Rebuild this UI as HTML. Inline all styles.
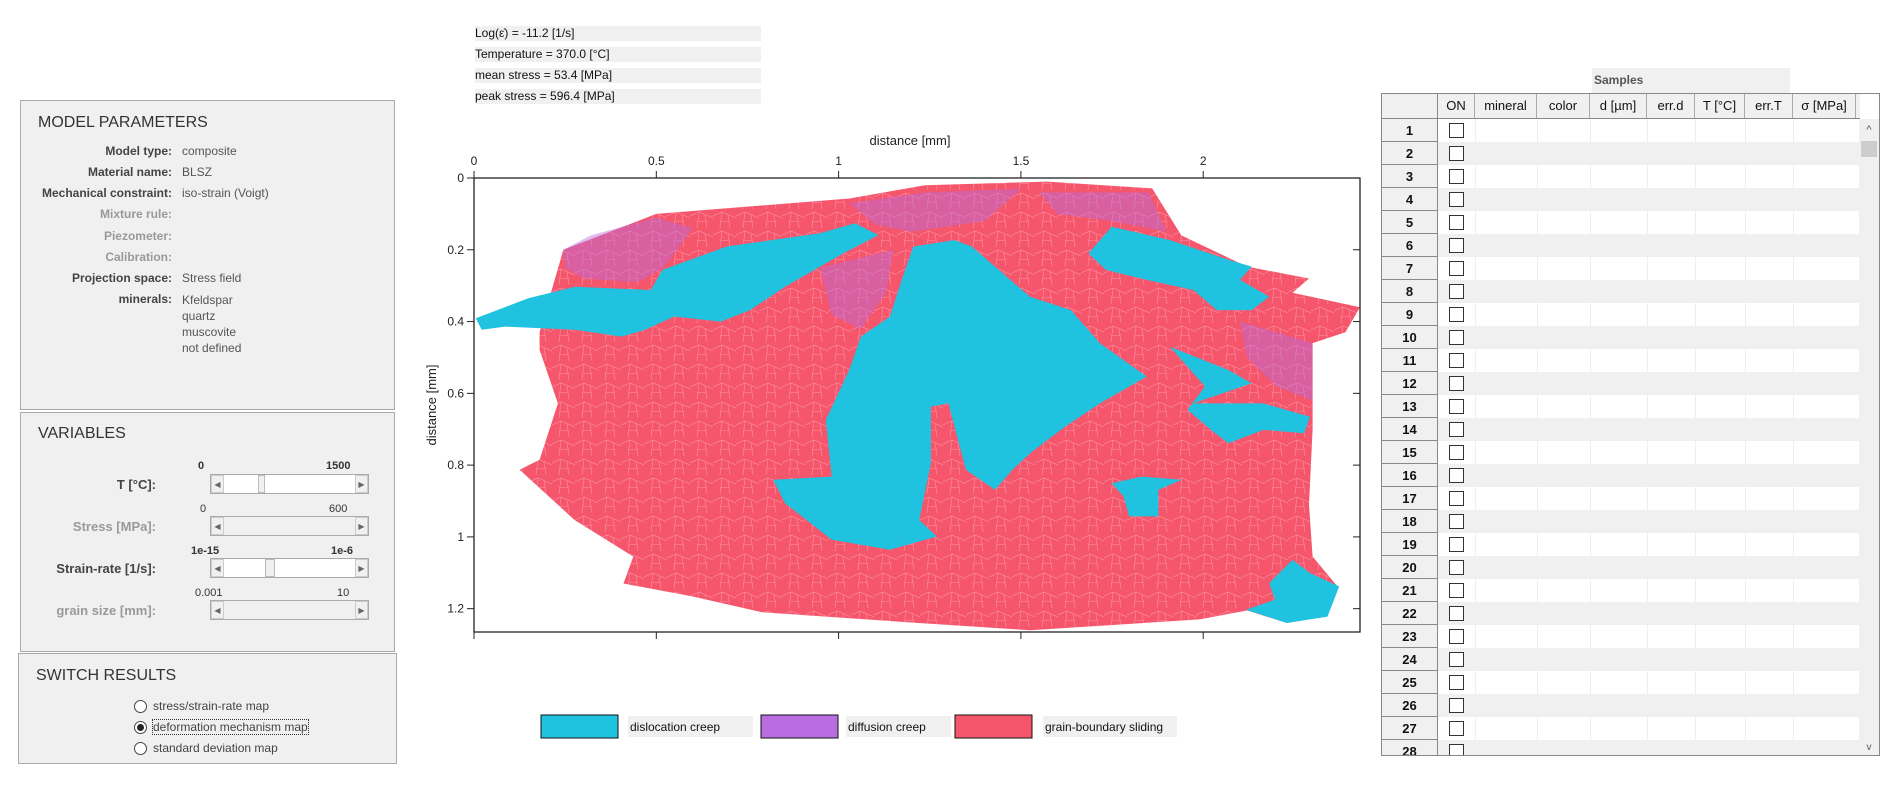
<!DOCTYPE html>
<html><head><meta charset="utf-8">
<style>
body{margin:0;width:1896px;height:810px;background:#fff;font-family:"Liberation Sans",sans-serif;position:relative;overflow:hidden;color:#333}
.abs{position:absolute}
.info{position:absolute;left:475px;width:286px;height:15px;background:#f0f0f0;font-size:12px;line-height:15px;color:#111;transform-origin:left;}
.panel{position:absolute;background:#f0f0f0;border:1px solid #aaa;box-sizing:border-box}
.ph{position:absolute;left:17px;font-size:16px;color:#333}
.lbl{position:absolute;right:0;font-size:12px;font-weight:bold;color:#444;text-align:right}
.val{position:absolute;font-size:12px;color:#555}
.dim{color:#999}
.slider{position:absolute;left:189px;width:159px;height:20px;background:#fff;border:1px solid #aaa;box-sizing:border-box}
.slider.dis{background:#f0f0f0}
.sb{position:absolute;top:0;width:13px;height:18px;background:#f0f0f0;border:1px solid #ccc;box-sizing:border-box;font-size:8px;line-height:18px;text-align:center;color:#666}
.th{position:absolute;top:0;height:18px;width:7px;background:#f0f0f0;border:1px solid #bbb;box-sizing:border-box}
.tk{position:absolute;font-size:11px;font-weight:bold;color:#333}
.radio{position:absolute;left:115px;width:13px;height:13px;border:1px solid #444;border-radius:50%;background:#fff;box-sizing:border-box}
.rt{position:absolute;left:134px;font-size:12px;color:#444}
</style></head><body>
<div class="info" style="top:26px">Log(ε̇) = -11.2 [1/s]</div>
<div class="info" style="top:47px">Temperature = 370.0 [°C]</div>
<div class="info" style="top:68px">mean stress = 53.4 [MPa]</div>
<div class="info" style="top:89px">peak stress = 596.4 [MPa]</div>

<div class="panel" style="left:20px;top:100px;width:375px;height:310px">
 <div class="ph" style="top:13px">MODEL PARAMETERS</div>
 <div style="position:absolute;left:0;width:151px;top:0;height:300px">
  <div class="lbl" style="top:43px">Model type:</div>
  <div class="lbl" style="top:64px">Material name:</div>
  <div class="lbl" style="top:85px">Mechanical constraint:</div>
  <div class="lbl dim" style="top:106px">Mixture rule:</div>
  <div class="lbl dim" style="top:128px">Piezometer:</div>
  <div class="lbl dim" style="top:149px">Calibration:</div>
  <div class="lbl" style="top:170px">Projection space:</div>
  <div class="lbl" style="top:191px">minerals:</div>
 </div>
 <div class="val" style="left:161px;top:43px">composite</div>
 <div class="val" style="left:161px;top:64px">BLSZ</div>
 <div class="val" style="left:161px;top:85px">iso-strain (Voigt)</div>
 <div class="val" style="left:161px;top:170px">Stress field</div>
 <div class="val" style="left:161px;top:191px;line-height:16px">Kfeldspar<br>quartz<br>muscovite<br>not defined</div>
</div>

<div class="panel" style="left:20px;top:412px;width:375px;height:240px">
 <div class="ph" style="top:12px">VARIABLES</div>
 <div class="tk" style="left:177px;top:47px">0</div><div class="tk" style="left:305px;top:47px">1500</div>
 <div class="lbl" style="right:238px;top:64px;font-size:13px">T [°C]:</div>
 <div class="slider" style="top:61px"><div class="sb" style="left:0">◀</div><div class="th" style="left:47px"></div><div class="sb" style="right:0">▶</div></div>
 <div class="tk dim" style="left:179px;top:90px;font-weight:normal">0</div><div class="tk dim" style="left:308px;top:90px;font-weight:normal">600</div>
 <div class="lbl dim" style="right:238px;top:106px;font-size:13px">Stress [MPa]:</div>
 <div class="slider dis" style="top:103px"><div class="sb" style="left:0">◀</div><div class="sb" style="right:0">▶</div></div>
 <div class="tk" style="left:170px;top:132px">1e-15</div><div class="tk" style="left:310px;top:132px">1e-6</div>
 <div class="lbl" style="right:238px;top:148px;font-size:13px">Strain-rate [1/s]:</div>
 <div class="slider" style="top:145px"><div class="sb" style="left:0">◀</div><div class="th" style="left:54px;width:10px"></div><div class="sb" style="right:0">▶</div></div>
 <div class="tk dim" style="left:174px;top:174px;font-weight:normal">0.001</div><div class="tk dim" style="left:316px;top:174px;font-weight:normal">10</div>
 <div class="lbl dim" style="right:238px;top:190px;font-size:13px">grain size [mm]:</div>
 <div class="slider dis" style="top:187px"><div class="sb" style="left:0">◀</div><div class="sb" style="right:0">▶</div></div>
</div>

<div class="panel" style="left:18px;top:653px;width:379px;height:111px">
 <div class="ph" style="top:13px">SWITCH RESULTS</div>
 <div class="radio" style="top:46px"></div><div class="rt" style="top:45px">stress/strain-rate map</div>
 <div class="radio" style="top:67px"><div style="position:absolute;left:2px;top:2px;width:7px;height:7px;border-radius:50%;background:#222"></div></div><div class="rt" style="top:66px;outline:1px dotted #333">deformation mechanism map</div>
 <div class="radio" style="top:88px"></div><div class="rt" style="top:87px">standard deviation map</div>
</div>

<svg class="abs" style="left:0;top:0" width="1896" height="810" id="plot"></svg>

<div class="abs" style="left:1592px;top:68px;width:198px;height:25px;background:#f0f0f0;font-size:12px;font-weight:bold;line-height:25px;color:#555;padding-left:2px;box-sizing:border-box">Samples</div>
<div class="abs" style="left:1381px;top:93px;width:499px;height:663px;border:1px solid #888;box-sizing:border-box;overflow:hidden;background:#fff">
 <div id="tbl"></div>
 <div style="position:absolute;right:0;top:25px;width:20px;height:637px;background:#f0f0f0">
  <div style="position:absolute;top:5px;width:20px;text-align:center;font-size:11px;color:#555">^</div>
  <div style="position:absolute;top:22px;left:2px;width:16px;height:16px;background:#cdcdcd"></div>
  <div style="position:absolute;bottom:3px;width:20px;text-align:center;font-size:10px;color:#555">v</div>
 </div>
</div>

<script>
// ---------- table ----------
const colNames=["ON","mineral","color","d [µm]","err.d","T [°C]","err.T","σ [MPa]"];
const colW=[37,62,53,57,48,50,48,63];
(function(){
 const t=document.getElementById('tbl');
 let h='<div style="position:absolute;left:0;top:0;height:25px;width:478px;background:#f0f0f0;border-bottom:1px solid #888;box-sizing:border-box"></div>';
 let x=56;
 h+='<div style="position:absolute;left:55px;top:0;width:1px;height:663px;background:#888"></div>';
 colNames.forEach((c,i)=>{h+='<div style="position:absolute;left:'+x+'px;top:0;width:'+colW[i]+'px;height:24px;border-right:1px solid #aaa;box-sizing:border-box;text-align:center;font-size:13px;line-height:24px;color:#111">'+c+'</div>';x+=colW[i];});
 t.innerHTML=h;
 for(let r=0;r<28;r++){
  const y=25+r*23;
  const row=document.createElement('div');
  
  
  row.style.cssText='position:absolute;left:0;top:'+y+'px;width:478px;height:23px';
  let s='<div style="position:absolute;left:0;top:0;width:55px;height:23px;border-bottom:1px solid #888;box-sizing:border-box;text-align:center;font-size:13px;font-weight:bold;line-height:23px;color:#111;background:#f0f0f0">'+(r+1)+'</div>';
  s+='<div style="position:absolute;left:56px;top:0;width:422px;height:23px;background:'+(r%2?'#f0f0f0':'#fff')+'"></div>';
  let cx=56+37;
  if(r%2==0){for(let i=1;i<colW.length;i++){s+='<div style="position:absolute;left:'+cx+'px;top:0;width:1px;height:23px;background:#eee"></div>';cx+=colW[i];}}
  row.innerHTML=s;
  const cb=document.createElement('div');
  
  
  cb.style.cssText='position:absolute;left:67px;top:4px;width:15px;height:15px;border:1px solid #333;background:#fff;box-sizing:border-box';
  row.appendChild(cb);
  t.appendChild(row);
 }
})();

// ---------- chart data ----------
const xTicks=[0,0.5,1,1.5,2];
const yTicks=[0,0.2,0.4,0.6,0.8,1,1.2];
const xTickLabels=["0","0.5","1","1.5","2"];
const yTickLabels=["0","0.2","0.4","0.6","0.8","1","1.2"];
const mechanisms=["dislocation creep","diffusion creep","grain-boundary sliding"];
const mechColors=["#1fc3df","#b96de0","#f5566c"];
const sampleOutline=[[0.18,0.43],[0.245,0.2],[0.5,0.1],[1.03,0.057],[1.237,0.02],[1.573,0.01],[1.86,0.029],[1.94,0.16],[2.12,0.247],[2.29,0.28],[2.245,0.32],[2.43,0.36],[2.39,0.43],[2.3,0.46],[2.3,0.7],[2.29,0.91],[2.3,1.055],[2.37,1.14],[2.34,1.22],[2.23,1.24],[2.12,1.205],[1.99,1.23],[1.525,1.26],[1.22,1.24],[0.79,1.21],[0.6,1.166],[0.41,1.13],[0.437,1.055],[0.276,0.953],[0.125,0.813],[0.18,0.785],[0.23,0.628],[0.18,0.479]];
const diffusionZones=[
 [[0.245,0.2],[0.32,0.16],[0.5,0.11],[0.6,0.14],[0.52,0.25],[0.45,0.29],[0.3,0.28],[0.25,0.25]],
 [[1.03,0.07],[1.24,0.04],[1.5,0.03],[1.4,0.12],[1.2,0.15],[1.1,0.13]],
 [[1.55,0.04],[1.85,0.04],[1.9,0.15],[1.75,0.12],[1.6,0.1]],
 [[0.95,0.25],[1.15,0.2],[1.13,0.32],[1.06,0.42],[0.98,0.38]],
 [[2.1,0.4],[2.3,0.46],[2.3,0.62],[2.2,0.58],[2.12,0.5]]
];
const dislocationZones=[
 [[0.005,0.391],[0.149,0.335],[0.277,0.303],[0.485,0.312],[0.517,0.256],[0.693,0.191],[0.949,0.154],[1.045,0.126],[1.109,0.159],[1.013,0.21],[0.853,0.303],[0.757,0.368],[0.677,0.4],[0.549,0.386],[0.469,0.423],[0.405,0.442],[0.277,0.423],[0.085,0.414],[0.021,0.423]],
 [[1.205,0.191],[1.317,0.173],[1.365,0.191],[1.525,0.331],[1.637,0.368],[1.717,0.461],[1.845,0.553],[1.717,0.628],[1.621,0.693],[1.525,0.767],[1.477,0.813],[1.429,0.869],[1.349,0.813],[1.301,0.628],[1.253,0.637],[1.253,0.795],[1.221,0.953],[1.269,0.999],[1.141,1.036],[0.981,1.008],[0.853,0.906],[0.821,0.841],[0.981,0.832],[0.965,0.674],[1.029,0.535],[1.061,0.442],[1.141,0.386],[1.173,0.284]],
 [[1.749,0.136],[1.909,0.173],[2.069,0.228],[2.133,0.247],[2.101,0.284],[2.181,0.331],[2.133,0.368],[2.037,0.368],[1.973,0.312],[1.845,0.284],[1.733,0.256],[1.685,0.21]],
 [[1.909,0.47],[2.069,0.535],[2.133,0.572],[1.973,0.628],[2.165,0.628],[2.293,0.665],[2.277,0.711],[2.165,0.702],[2.069,0.739],[2.021,0.702],[1.957,0.646],[2.005,0.581]],
 [[1.749,0.851],[1.829,0.832],[1.941,0.841],[1.877,0.869],[1.877,0.943],[1.797,0.943],[1.781,0.887]],
 [[2.245,1.064],[2.293,1.101],[2.373,1.138],[2.341,1.222],[2.229,1.24],[2.117,1.203],[2.197,1.175],[2.181,1.129]]
];

// ---------- chart drawing ----------
const PL=474,PT=178,PR=1360,PB=632,XMAX=2.43,YMAX=1.265;
const sx=v=>PL+v/XMAX*(PR-PL);
const sy=v=>PT+v/YMAX*(PB-PT);
const NS='http://www.w3.org/2000/svg';
const svg=document.getElementById('plot');
function mk(tag,attrs,parent){const e=document.createElementNS(NS,tag);for(const k in attrs)e.setAttribute(k,attrs[k]);(parent||svg).appendChild(e);return e;}
const pts=a=>a.map(p=>sx(p[0]).toFixed(1)+','+sy(p[1]).toFixed(1)).join(' ');
const defs=mk('defs',{});
const pat=mk('pattern',{id:'grains',width:23,height:19,patternUnits:'userSpaceOnUse'},defs);
mk('path',{d:'M0 7 L9 3 L23 9 M9 3 L7 19 M15 6 L17 19 M7 13 L17 12',stroke:'#ffb8c2','stroke-width':0.6,fill:'none'},pat);

const base=mk('polygon',{points:pts(sampleOutline),fill:mechColors[2]});


const tex=mk('polygon',{points:pts(sampleOutline),fill:'url(#grains)',opacity:0.6});


diffusionZones.forEach((z,i)=>{
 const p=mk('polygon',{points:pts(z),fill:mechColors[1],opacity:0.45});
 
 
});
dislocationZones.forEach((z,i)=>{
 const p=mk('polygon',{points:pts(z),fill:mechColors[0]});
 
 
});
const frame=mk('rect',{x:PL,y:PT,width:PR-PL,height:PB-PT,fill:'none',stroke:'#222','stroke-width':1.3});


xTicks.forEach((v,i)=>{
 const x=sx(v);
 mk('line',{x1:x,x2:x,y1:PT-7,y2:PT,stroke:'#222'});
 mk('line',{x1:x,x2:x,y1:PB,y2:PB+7,stroke:'#222'});
 const t=mk('text',{x:x,y:PT-13,'text-anchor':'middle','font-size':12,fill:'#222','font-family':'Liberation Sans'});
 t.textContent=xTickLabels[i];
 
 
});
yTicks.forEach((v,i)=>{
 const y=sy(v);
 mk('line',{x1:PL-7,x2:PL,y1:y,y2:y,stroke:'#222'});
 mk('line',{x1:PR-7,x2:PR,y1:y,y2:y,stroke:'#222'});
 const t=mk('text',{x:PL-10,y:y+4,'text-anchor':'end','font-size':12,fill:'#222','font-family':'Liberation Sans'});
 t.textContent=yTickLabels[i];
 
 
});
const xt=mk('text',{x:910,y:145,'text-anchor':'middle','font-size':13,fill:'#222','font-family':'Liberation Sans'});
xt.textContent='distance [mm]';


const yt=mk('text',{x:0,y:0,'text-anchor':'middle','font-size':13,fill:'#222','font-family':'Liberation Sans',transform:'translate(436,405) rotate(-90)'});
yt.textContent='distance [mm]';


const legSw=[541,761,955], legLb=[628,846,1043], legLw=[125,105,134];
mechanisms.forEach((m,i)=>{
 const r=mk('rect',{x:legSw[i],y:715,width:77,height:23,fill:mechColors[i],stroke:'#111','stroke-width':1});
 
 
 mk('rect',{x:legLb[i],y:716,width:legLw[i],height:21,fill:'#f0f0f0'});
 const t=mk('text',{x:legLb[i]+2,y:731,'font-size':12,fill:'#111','font-family':'Liberation Sans'});
 t.textContent=m;
 
 
});
</script>
</body></html>
